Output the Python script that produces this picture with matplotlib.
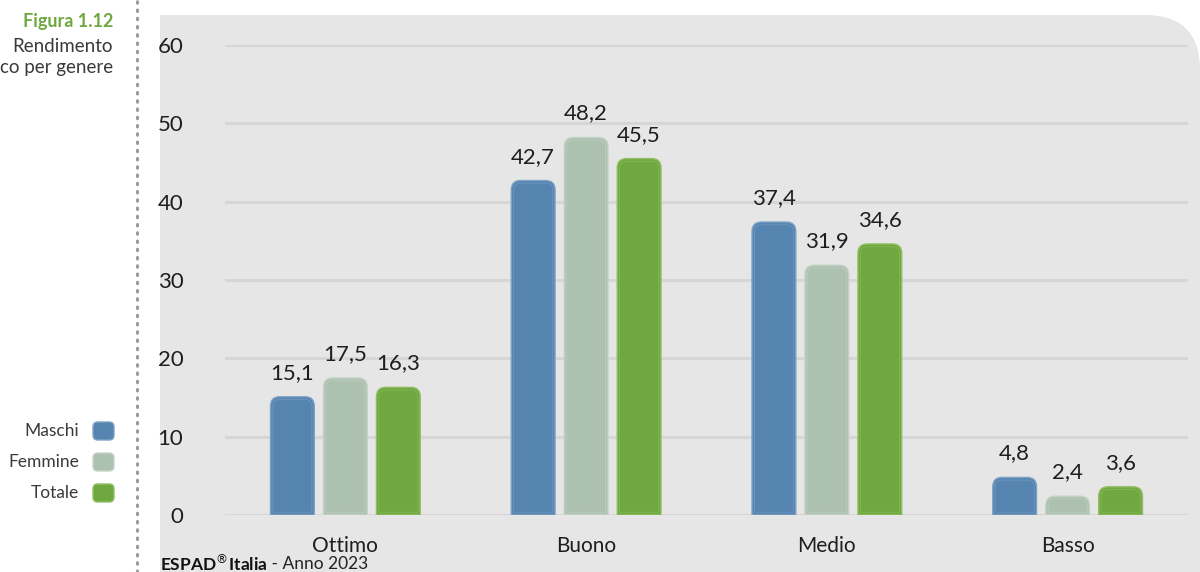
import numpy as np
import matplotlib.pyplot as plt
from matplotlib.patches import FancyBboxPatch, PathPatch
from matplotlib.path import Path

plt.rcParams['font.family'] = ['Lato', 'DejaVu Sans']

# ---------------- data ----------------
categories = ["Ottimo", "Buono", "Medio", "Basso"]
series_names = ["Maschi", "Femmine", "Totale"]
maschi = [15.1, 42.7, 37.4, 4.8]
femmine = [17.5, 48.2, 31.9, 2.4]
totale = [16.3, 45.5, 34.6, 3.6]
yticks = [0, 10, 20, 30, 40, 50, 60]

colors = ["#5684b0", "#adc1b1", "#70a840"]
edges = ["#7fa3c6", "#c6d4c8", "#92bf66"]
values = [maschi, femmine, totale]


def top_rounded(left, bottom, w, h, rx, ry):
    # bar outline with rounded top corners only
    ry = min(ry, h)
    v = [(left, bottom), (left, bottom + h - ry), (left, bottom + h), (left + rx, bottom + h),
         (left + w - rx, bottom + h), (left + w, bottom + h), (left + w, bottom + h - ry),
         (left + w, bottom), (left, bottom)]
    c = [Path.MOVETO, Path.LINETO, Path.CURVE3, Path.CURVE3, Path.LINETO,
         Path.CURVE3, Path.CURVE3, Path.LINETO, Path.CLOSEPOLY]
    return Path(v, c)


fig = plt.figure(figsize=(12, 5.72), dpi=100)

# grey panel with rounded top-right corner (figure coords in pixels)
W, H = 1200, 572
x0, y0, rad = 160, 15, 55
verts = [(x0, H), (x0, y0), (W - rad, y0), (W, y0), (W, y0 + rad), (W, H), (x0, H)]
codes = [Path.MOVETO, Path.LINETO, Path.LINETO, Path.CURVE3, Path.CURVE3, Path.LINETO, Path.CLOSEPOLY]
verts = [(vx / W, 1 - vy / H) for vx, vy in verts]
fig.patches.append(PathPatch(Path(verts, codes), facecolor="#e6e6e6", edgecolor="none",
                             transform=fig.transFigure, zorder=-1))

# dotted separator
fig.add_artist(plt.Line2D([137 / W, 137 / W], [0, 1], transform=fig.transFigure,
                          color="#9a9a9a", linestyle=(0, (0.5, 2.2)), linewidth=2.2,
                          dash_capstyle="round"))

ax = fig.add_axes([225 / W, 57 / H, (1188 - 225) / W, (515 - 45) / H])
ax.set_zorder(2)
ax.set_facecolor("none")
ax.set_xlim(-0.5, 3.5)
ax.set_ylim(0, 60)

for s in ax.spines.values():
    s.set_visible(False)
ax.set_yticks(yticks)
ax.set_yticklabels([str(t) for t in yticks])
ax.tick_params(axis="y", length=0, pad=30, labelsize=16, labelcolor="#1e1e1e")
ax.set_xticks(range(len(categories)))
ax.set_xticklabels(categories)
ax.tick_params(axis="x", length=0, pad=15, labelsize=15, labelcolor="#1e1e1e")
ax.yaxis.grid(True, color="#d6d6d6", linewidth=2.2)
ax.set_axisbelow(True)

x = np.arange(len(categories))
bw = 0.182
step = 0.22
rx = 0.038
ry = 1.2
ix = 0.01   # inset of the light inner outline
iy = 0.35

for k, (vals, c, ec) in enumerate(zip(values, colors, edges)):
    for i, v in enumerate(vals):
        left = x[i] + (k - 1) * step - bw / 2
        ax.add_patch(PathPatch(top_rounded(left, 0, bw, v, rx, ry),
                               facecolor=c, edgecolor=ec, linewidth=1.0, zorder=3))
        ax.add_patch(PathPatch(top_rounded(left + ix, iy, bw - 2 * ix, v - 2 * iy,
                                           rx - ix, ry - iy),
                               facecolor="none", edgecolor=ec, linewidth=0.6,
                               alpha=0.6, zorder=4))
        ax.annotate(f"{v:.1f}".replace(".", ","), (x[i] + (k - 1) * step, v),
                    xytext=(0, 10), textcoords="offset points", ha="center",
                    va="bottom", fontsize=16, color="#1e1e1e", zorder=5)

# title block on the left
fig.text(113 / W, 1 - 21 / H, "Figura 1.12", ha="right", va="center",
         fontsize=13, fontweight="bold", color="#70a840")
fig.text(113 / W, 1 - 46 / H, "Rendimento", ha="right", va="center",
         fontsize=13.5, color="#3a3a3a")
fig.text(113 / W, 1 - 68 / H, "co per genere", ha="right", va="center",
         fontsize=13.5, color="#3a3a3a")

# legend on the left
for k, (name, c, ec) in enumerate(zip(series_names, colors, edges)):
    yc = 431 + k * 31
    fig.text(79 / W, 1 - yc / H, name, ha="right", va="center",
             fontsize=12.5, color="#3a3a3a")
    fig.patches.append(FancyBboxPatch((93 / W, 1 - (yc + 9) / H), 21 / W, 18 / H,
                                      boxstyle="round,pad=0,rounding_size=0.004",
                                      mutation_aspect=W / H,
                                      transform=fig.transFigure, facecolor=c,
                                      edgecolor=ec, linewidth=1))

# source
t = fig.text(160 / W, 1 - 564 / H, "ESPAD$^{®}$Italia", ha="left", va="center",
             fontsize=12.5, fontweight="bold", color="#111111")
fig.canvas.draw()
bb = t.get_window_extent()
fig.text(bb.x1 / W, 1 - 564 / H, " - Anno 2023", ha="left", va="center",
         fontsize=12.5, color="#222222")

fig.savefig("out.png", dpi=100)
